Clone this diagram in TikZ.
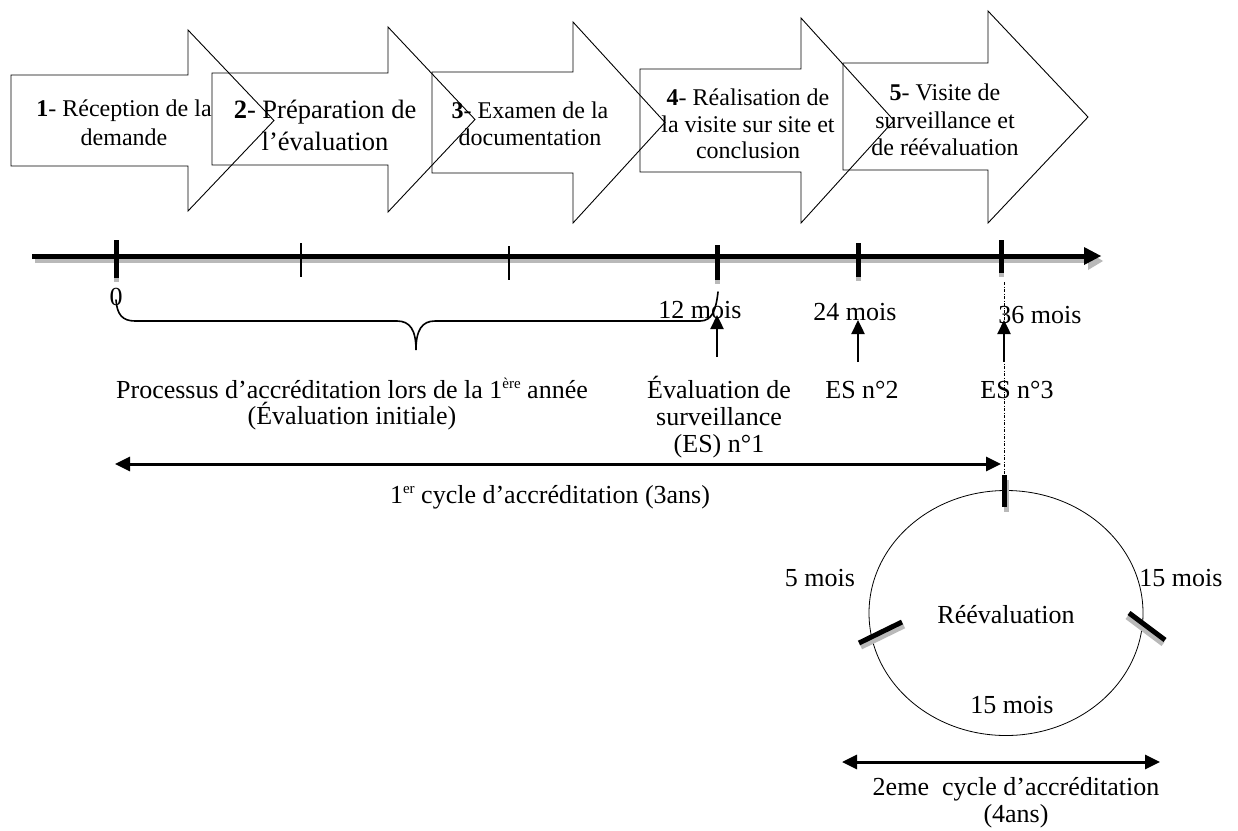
\documentclass[tikz,border=0pt]{standalone}
\usepackage{fontspec}
\setmainfont{Liberation Serif}
\usetikzlibrary{arrows.meta,shapes.geometric}
\newcommand\supx[1]{\raisebox{10pt}{\fontsize{15}{15}\selectfont #1}}
\tikzset{
  blk/.style={draw=black, line width=0.9pt},
  atxt/.style={align=center, inner sep=0pt, font=\fontsize{24}{27}\selectfont},
  lbl/.style={align=center, inner sep=0pt, font=\fontsize{26}{27}\selectfont},
  bigtick/.style={line width=5pt, black},
  smalltick/.style={line width=1.8pt, black},
  tickshadow/.style={line width=5pt, gray!55},
  uparrow/.style={line width=2.4pt, -{Triangle[length=14pt,width=13pt]}},
  dblarrow/.style={line width=3pt, {Triangle[length=15pt,width=14pt]}-{Triangle[length=15pt,width=14pt]}},
  bracestyle/.style={line width=1.6pt, line cap=round},
}
% #1 left, #2 head x, #3 body top, #4 body bottom, #5 head top, #6 head bottom, #7 tip x, #8 mid y
\newcommand\blkarrow[8]{\draw[blk] (#1,#3) -- (#2,#3) -- (#2,#5) -- (#7,#8) -- (#2,#6) -- (#2,#4) -- (#1,#4) -- cycle;}
\begin{document}
\begin{tikzpicture}[x=1pt,y=-1pt]
\useasboundingbox (0,0) rectangle (1238,830);
\fill[white] (0,0) rectangle (1238,830);

% block arrows
\blkarrow{11}{188}{75}{166}{30}{211}{274}{120.5}
\blkarrow{212}{388}{73}{165}{27}{212}{475}{119.5}
\blkarrow{432}{573}{72}{173}{22}{223}{665}{122.5}
\blkarrow{640}{801}{69}{172}{18}{223}{894}{120.5}
\blkarrow{843}{988}{63}{170}{11}{223}{1088}{117}

\node[atxt, font=\fontsize{24}{29}\selectfont] (s1) at (124,123) {\textbf{1}- Réception de la\\demande};
\node[atxt, font=\fontsize{26.5}{32}\selectfont] (s2) at (325,125) {\textbf{2}- Préparation de\\l’évaluation};
\node[atxt] (s3) at (530,124) {\textbf{3}- Examen de la\\documentation};
\node[atxt, font=\fontsize{24}{26.5}\selectfont] (s4) at (748,124) {\textbf{4}- Réalisation de\\la visite sur site et\\conclusion};
\node[atxt, font=\fontsize{24}{27.5}\selectfont] (s5) at (945,120) {\textbf{5}- Visite de\\surveillance et\\de réévaluation};

% timeline
\coordinate (tlA) at (32,256);
\coordinate (tlB) at (1086,256);
\draw[line width=4pt, gray!55] (35,261) -- (1092,261);
\fill[gray!55] (1088,252) -- (1103,261) -- (1088,270) -- cycle;
\draw[line width=5pt] (tlA) -- (tlB);
\fill (1084,247) -- (1101,256) -- (1084,265) -- cycle;

% ticks
\foreach \x/\a/\b in {116/240/278, 717/245/280, 858/243/277, 1001/240/273}{
  \draw[tickshadow] (\x,\a+6) -- (\x,\b+4);
  \draw[bigtick] (\x,\a) -- (\x,\b);
}
\draw[smalltick] (301,243) -- (301,277);
\draw[smalltick] (509,246) -- (509,280);

% brace
\draw[bracestyle] (116,300) .. controls (117,314) and (122,321) .. (135,321) -- (397,321)
  .. controls (410,321) and (416,330) .. (416,350)
  .. controls (416,330) and (422,321) .. (435,321) -- (700,321)
  .. controls (712,321) and (716,310) .. (718,292);

% month labels
\node[lbl] (m0) at (116,297) {0};
\node[lbl] (m12) at (700,310) {12 mois};
\node[lbl] (m24) at (855,312) {24 mois};
\node[lbl] (m36) at (1040,315) {36 mois};

% up arrows
\coordinate (u1s) at (717,357); \coordinate (u1e) at (717,315);
\coordinate (u2s) at (858,362); \coordinate (u2e) at (858,320);
\coordinate (u3s) at (1004,362); \coordinate (u3e) at (1004,320);
\draw[uparrow] (u1s) -- (u1e);
\draw[uparrow] (u2s) -- (u2e);
\draw[uparrow] (u3s) -- (u3e);

% labels below
\node[lbl] (es1) at (719,417) {Évaluation de\\surveillance\\(ES) n°1};
\node[lbl] (es2) at (862,390) {ES n°2};
\node[lbl] (es3) at (1017,390) {ES n°3};
\node[lbl, font=\fontsize{26}{26}\selectfont] (proc) at (352,404) {Processus d’accréditation lors de la 1\supx{ère} année\\(Évaluation initiale)};

% dotted connector
\coordinate (dA) at (1004,282);
\coordinate (dB) at (1004,478);
\draw[line width=0.8pt, dash pattern=on 3pt off 1.5pt on 1pt off 1.5pt] (dA) -- (dB);

% first cycle
\coordinate (c1L) at (115,464);
\coordinate (c1R) at (1001,464);
\draw[dblarrow] (c1L) -- (c1R);
\node[lbl] (cyc1) at (550,497) {1\supx{er} cycle d’accréditation (3ans)};

% circle
\node[draw, ellipse, minimum width=274pt, minimum height=245pt, line width=0.8pt, inner sep=0pt] (circ) at (1006,613) {};
\draw[tickshadow] (1006,480) -- (1006,512);
\draw[bigtick] (1004,475) -- (1004,507);
\draw[tickshadow] (861,647) -- (904,626);
\draw[bigtick] (859,643) -- (902,622);
\draw[tickshadow] (1127,617) -- (1163,644);
\draw[bigtick] (1129,613) -- (1165,640);
\node[lbl] (reev) at (1006,615) {Réévaluation};
\node[lbl] (m5) at (820,578) {5 mois};
\node[lbl] (m15a) at (1181,578) {15 mois};
\node[lbl] (m15b) at (1012,705) {15 mois};

% second cycle
\coordinate (c2L) at (842,762);
\coordinate (c2R) at (1160,762);
\draw[dblarrow] (c2L) -- (c2R);
\node[lbl] (cyc2) at (1016,803) {2eme~ cycle d’accréditation\\(4ans)};
\end{tikzpicture}
\end{document}
